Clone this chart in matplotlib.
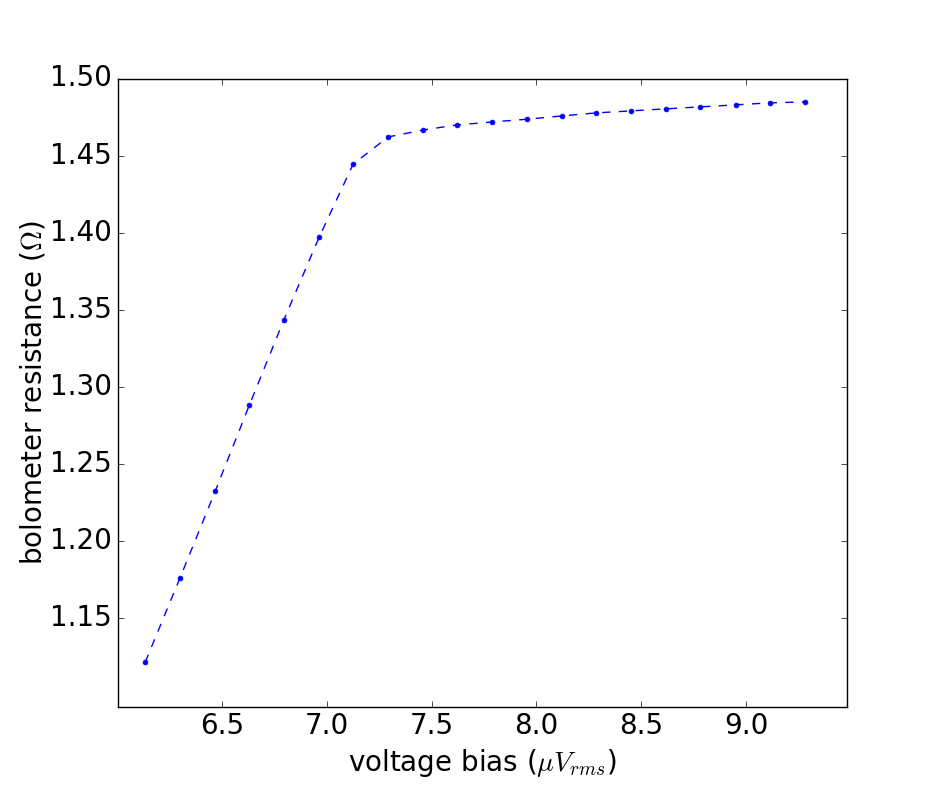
import matplotlib
matplotlib.use("Agg")
import matplotlib.pyplot as plt

# bias voltage (uV rms) and measured bolometer resistance (ohm)
v_bias = [6.134, 6.301, 6.468, 6.631, 6.795, 6.964, 7.126, 7.293, 7.460, 7.622,
          7.789, 7.956, 8.120, 8.285, 8.452, 8.616, 8.782, 8.949, 9.112, 9.279]
r_bolo = [1.1212, 1.1762, 1.2322, 1.2881, 1.3432, 1.3971, 1.4445, 1.4621, 1.4666, 1.4699,
          1.4718, 1.4736, 1.4757, 1.4777, 1.4790, 1.4803, 1.4816, 1.4829, 1.4842, 1.4848]

x_ticks = [6.5, 7.0, 7.5, 8.0, 8.5, 9.0]
y_ticks = [1.15, 1.20, 1.25, 1.30, 1.35, 1.40, 1.45, 1.50]


def main():
    plt.style.use('classic')
    fig = plt.figure(figsize=(9.41, 7.85), dpi=100, facecolor='white')
    ax = fig.add_subplot(111)
    fig.subplots_adjust(left=0.125, right=0.9, bottom=0.1, top=0.9)

    ax.plot(v_bias, r_bolo, 'b.--', markersize=7, linewidth=1)

    ax.set_xlim(6.003, 9.48)
    ax.set_ylim(1.0926, 1.50)
    ax.set_xticks(x_ticks)
    ax.set_yticks(y_ticks)
    ax.set_xticklabels(['%.1f' % t for t in x_ticks])
    ax.set_yticklabels(['%.2f' % t for t in y_ticks])
    ax.tick_params(labelsize=20)

    ax.set_xlabel(r'voltage bias ($\mu V_{rms}$)', fontsize=20)
    ax.set_ylabel(r'bolometer resistance ($\Omega$)', fontsize=20, labelpad=2)

    fig.savefig('out.png', dpi=100, facecolor='white')


if __name__ == '__main__':
    main()
